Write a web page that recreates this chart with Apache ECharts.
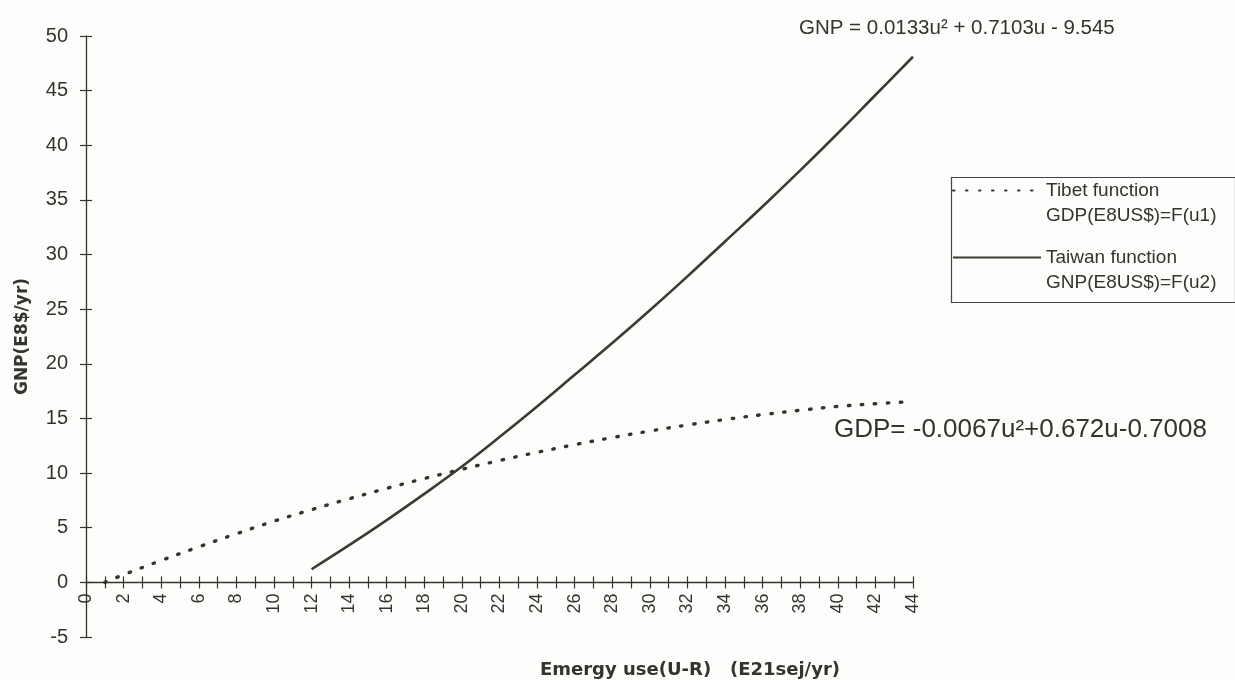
<!DOCTYPE html>
<html><head><meta charset="utf-8">
<script src="https://cdn.jsdelivr.net/npm/echarts@6/dist/echarts.min.js"></script>
<style>html,body{margin:0;background:#fdfdfb}#c{width:1235px;height:680px}</style>
</head><body><div id="c"></div>
<script>
// Emergy use (E21sej/yr) sample points
const tibetU   = [1, 2, 4, 6, 8, 10, 12, 14, 16, 18, 20, 22, 24, 26, 28, 30, 32, 34, 36, 38, 40, 42, 44];
const tibetGDP = [0.0, 0.7, 2.0, 3.25, 4.45, 5.6, 6.65, 7.65, 8.6, 9.5, 10.35, 11.15, 11.9, 12.6, 13.25, 13.85, 14.4, 14.9, 15.35, 15.75, 16.1, 16.35, 16.55];
const taiwanU   = [12, 14, 16, 18, 20, 22, 24, 26, 28, 30, 32, 34, 36, 38, 40, 42, 44];
const taiwanGNP = [1.2, 3.4, 5.7, 8.1, 10.6, 13.3, 16.1, 19.0, 21.9, 24.9, 28.0, 31.2, 34.4, 37.7, 41.1, 44.6, 48.1];
const seriesNames = ['Tibet function', 'Taiwan function'];
const legendSecondLines = ['GDP(E8US$)=F(u1)', 'GNP(E8US$)=F(u2)'];
const yAxisTitle = 'GNP(E8$/yr)';
const xAxisTitle = 'Emergy use(U-R)   (E21sej/yr)';
const taiwanEq = 'GNP = 0.0133u² + 0.7103u - 9.545';
const tibetEq = 'GDP= -0.0067u²+0.672u-0.7008';

const FONT = '"Liberation Sans", Arial, sans-serif';
const BOLDFONT = '"DejaVu Sans", "Liberation Sans", sans-serif';
const INK = '#333330';

const chart = echarts.init(document.getElementById('c'));
const tickStyle = { color: INK, width: 1.2 };
const X_OFFSET = -54.6; // moves the x axis up to the y = 0 line
const TICK = 6;

chart.setOption({
  backgroundColor: '#fdfdfb',
  animation: false,
  color: [INK, INK],
  grid: { left: 86, right: 322, top: 36, bottom: 43 },
  xAxis: [{
    type: 'value', min: 0, max: 44, interval: 2, position: 'bottom', offset: X_OFFSET,
    axisLine: { onZero: false, lineStyle: { color: INK, width: 1.3 } },
    axisTick: { show: true, length: TICK, lineStyle: tickStyle },
    minorTick: { show: true, splitNumber: 2, length: TICK, lineStyle: tickStyle },
    splitLine: { show: false }, minorSplitLine: { show: false },
    axisLabel: { rotate: 90, margin: 11, fontSize: 18, color: INK, fontFamily: FONT }
  }, {
    // upper half of the crossing tick marks
    type: 'value', min: 0, max: 44, interval: 2, position: 'bottom', offset: X_OFFSET - TICK,
    axisLine: { onZero: false, show: false },
    axisTick: { show: true, length: TICK, lineStyle: tickStyle },
    minorTick: { show: true, splitNumber: 2, length: TICK, lineStyle: tickStyle },
    splitLine: { show: false }, axisLabel: { show: false }
  }],
  yAxis: [{
    type: 'value', min: -5, max: 50, interval: 5, position: 'left',
    axisLine: { show: true, onZero: false, lineStyle: { color: INK, width: 1.3 } },
    axisTick: { show: true, length: TICK, lineStyle: tickStyle },
    splitLine: { show: false },
    axisLabel: { margin: 18, fontSize: 20, color: INK, fontFamily: FONT },
    name: yAxisTitle, nameLocation: 'middle', nameGap: 55, nameRotate: 90,
    nameTextStyle: { fontSize: 17, fontWeight: 'bold', color: INK, fontFamily: BOLDFONT }
  }, {
    // right half of the crossing tick marks
    type: 'value', min: -5, max: 50, interval: 5, position: 'left', offset: -TICK,
    axisLine: { show: false, onZero: false },
    axisTick: { show: true, length: TICK, lineStyle: tickStyle },
    splitLine: { show: false }, axisLabel: { show: false }
  }],
  legend: {
    left: 952, top: 153, orient: 'vertical', align: 'left',
    padding: 0, itemGap: -8, itemWidth: 88, itemHeight: 12,
    itemStyle: { opacity: 0 },
    formatter: n => ' \n' + n + '\n' + legendSecondLines[seriesNames.indexOf(n)],
    textStyle: { fontSize: 19, lineHeight: 25, color: INK, fontFamily: FONT },
    data: seriesNames
  },
  graphic: [
    { type: 'rect', left: 949, top: 175, shape: { width: 284, height: 125 },
      style: { fill: 'none', stroke: '#444', lineWidth: 1.2 }, z: -1 },
    { type: 'text', left: 799, top: 18,
      style: { text: taiwanEq, fontSize: 20.5, fill: INK, fontFamily: FONT } },
    { type: 'text', left: 834, top: 417,
      style: { text: tibetEq, fontSize: 26, fill: INK, fontFamily: FONT } },
    { type: 'text', x: 690, y: 670,
      style: { text: xAxisTitle, fontSize: 18, fontWeight: 'bold', fill: INK, fontFamily: BOLDFONT,
               align: 'center', verticalAlign: 'middle' } }
  ],
  series: [{
    name: seriesNames[0], type: 'line', smooth: 0.4, showSymbol: false, symbol: 'none',
    xAxisIndex: 0, yAxisIndex: 0,
    data: tibetU.map((u, i) => [u, tibetGDP[i]]),
    itemStyle: { color: INK },
    lineStyle: { color: INK, width: 3.4, type: [1.5, 11.5], cap: 'round' }
  }, {
    name: seriesNames[1], type: 'line', smooth: 0.4, showSymbol: false, symbol: 'none',
    xAxisIndex: 0, yAxisIndex: 0,
    data: taiwanU.map((u, i) => [u, taiwanGNP[i]]),
    itemStyle: { color: INK },
    lineStyle: { color: '#3a3a36', width: 2.6 }
  }]
});
</script></body></html>
